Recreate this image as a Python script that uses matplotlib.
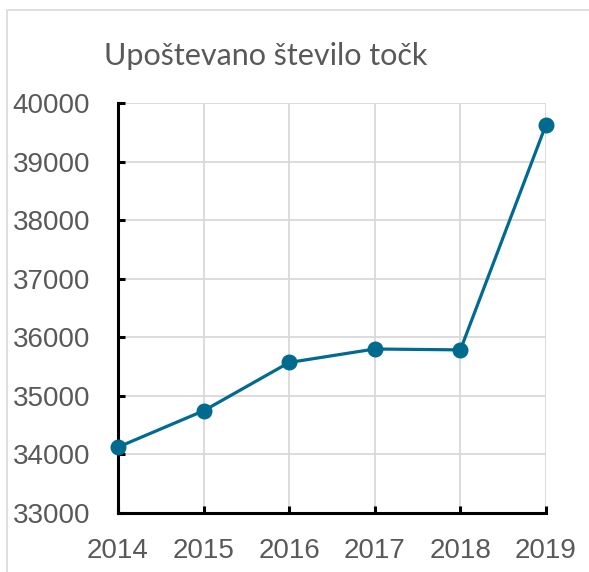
import matplotlib.pyplot as plt
from matplotlib.patches import Rectangle

years = ['2014', '2015', '2016', '2017', '2018', '2019']
points = [34125, 34745, 35570, 35800, 35785, 39630]
y_ticks = [33000, 34000, 35000, 36000, 37000, 38000, 39000, 40000]

line_color = '#006b8f'
text_color = '#595959'

fig = plt.figure(figsize=(5.89, 5.72), dpi=100)
# outer chart border (runs off the right and bottom edges)
fig.patches.append(Rectangle((7 / 589, -0.2), 1.2, 1.2 - 10 / 572,
                             transform=fig.transFigure, fill=False,
                             edgecolor='#d9d9d9', linewidth=1.2))

ax = fig.add_axes([118 / 589, 59 / 572, 428 / 589, 410 / 572])
x = list(range(len(years)))
ax.plot(x, points, color=line_color, linewidth=2.3, marker='o', markersize=10.5,
        clip_on=False, zorder=3)

ax.set_xlim(0, len(years) - 1)
ax.set_ylim(33000, 40000)
ax.set_xticks(x)
ax.set_xticklabels(years)
ax.set_yticks(y_ticks)
ax.set_yticklabels([str(v) for v in y_ticks])
ax.grid(True, color='#d9d9d9', linewidth=1.3)
ax.set_axisbelow(True)

for s in ['top', 'right']:
    ax.spines[s].set_visible(False)
for s in ['left', 'bottom']:
    ax.spines[s].set_linewidth(2.2)
    ax.spines[s].set_color('black')

ax.tick_params(axis='both', direction='in', length=5, width=2.2, colors='black',
               labelcolor=text_color, labelsize=20)
ax.tick_params(axis='y', pad=20)
ax.tick_params(axis='x', pad=18)
for lab in ax.get_xticklabels() + ax.get_yticklabels():
    lab.set_family('Liberation Sans')

fig.text(266 / 589, 1 - 56 / 572, 'Upoštevano število točk', ha='center', va='center',
         fontsize=22, color=text_color, family='Lato')

plt.savefig('out.png', dpi=100)
